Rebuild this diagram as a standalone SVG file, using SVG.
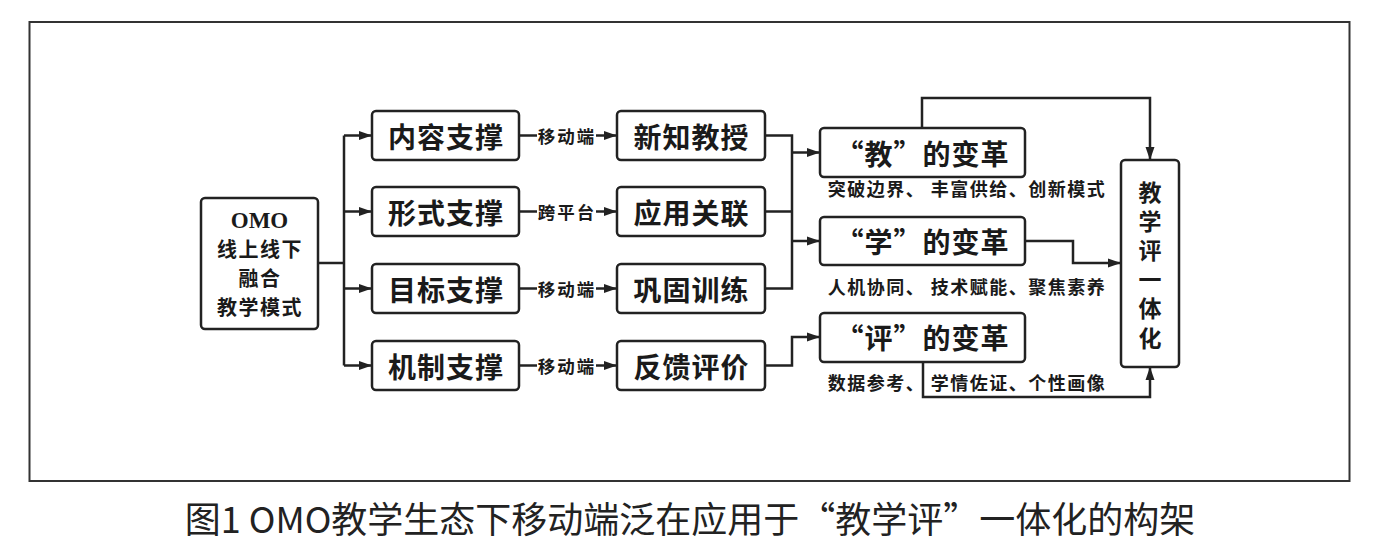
<svg xmlns="http://www.w3.org/2000/svg" width="1381" height="541" viewBox="0 0 1381 541">
<style>
.frame{fill:none;stroke:#333;stroke-width:2}
.box{fill:#fff;stroke:#222;stroke-width:2.5}
.ln{fill:none;stroke:#222;stroke-width:2.5}
.t{font-family:"Noto Sans CJK SC",sans-serif;font-weight:700;fill:#1a1a1a;text-anchor:middle;dominant-baseline:central}
.big{font-size:28px;letter-spacing:1px}
.mid{font-size:20px;letter-spacing:1.5px}
.vert{font-size:23px;letter-spacing:6.2px;writing-mode:vertical-rl}
.lab{font-size:17.5px;letter-spacing:2px}
.sub{font-size:18px;letter-spacing:1.5px}
.omo{font-family:"Liberation Serif",serif;font-size:23px;letter-spacing:0}
.cap{font-family:"Noto Sans CJK SC",sans-serif;font-weight:400;font-size:36px;fill:#222;text-anchor:middle;dominant-baseline:central}
</style>
<defs>
<marker id="ah" markerUnits="userSpaceOnUse" markerWidth="14" markerHeight="10" refX="13" refY="5" orient="auto">
<path d="M0,0.5 L13,5 L0,9.5 Z" fill="#222"/>
</marker>
</defs>
<rect x="0" y="0" width="1381" height="541" fill="#fff"/>
<rect class="frame" x="29.5" y="22" width="1320" height="459"/>

<g id="connectors">
<path class="ln" d="M318,263 H344"/>
<path class="ln" d="M344,135.5 V365.5"/>
<path class="ln" d="M344,135.5 H372" marker-end="url(#ah)"/>
<path class="ln" d="M344,211.5 H372" marker-end="url(#ah)"/>
<path class="ln" d="M344,288.5 H372" marker-end="url(#ah)"/>
<path class="ln" d="M344,365.5 H372" marker-end="url(#ah)"/>

<path class="ln" d="M519,135.5 H537"/>
<path class="ln" d="M596,135.5 H617" marker-end="url(#ah)"/>
<path class="ln" d="M519,211.5 H537"/>
<path class="ln" d="M596,211.5 H617" marker-end="url(#ah)"/>
<path class="ln" d="M519,288.5 H537"/>
<path class="ln" d="M596,288.5 H617" marker-end="url(#ah)"/>
<path class="ln" d="M519,365.5 H537"/>
<path class="ln" d="M596,365.5 H617" marker-end="url(#ah)"/>

<path class="ln" d="M765,135.5 H792 V288.5 H765"/>
<path class="ln" d="M765,211.5 H792"/>
<path class="ln" d="M792,152.5 H820" marker-end="url(#ah)"/>
<path class="ln" d="M792,241 H820" marker-end="url(#ah)"/>
<path class="ln" d="M765,365.5 H792 V337 H820" marker-end="url(#ah)"/>

<path class="ln" d="M922,128 V98 H1150 V160" marker-end="url(#ah)"/>
<path class="ln" d="M1025,241 H1073 V263 H1121" marker-end="url(#ah)"/>
<path class="ln" d="M923,362 V397 H1150 V367" marker-end="url(#ah)"/>

<text class="t lab" x="567" y="135.5">移动端</text>
<text class="t lab" x="567" y="211.5">跨平台</text>
<text class="t lab" x="567" y="288.5">移动端</text>
<text class="t lab" x="567" y="365.5">移动端</text>
</g>

<g id="omo">
<rect class="box" x="201" y="198" width="117" height="131" rx="4"/>
<text class="t omo" x="259.5" y="220">OMO</text>
<text class="t mid" x="260" y="248">线上线下</text>
<text class="t mid" x="260" y="277">融合</text>
<text class="t mid" x="260" y="306">教学模式</text>
</g>

<g id="s1"><rect class="box" x="372" y="111" width="147" height="49" rx="4"/><text class="t big" x="446" y="135.5">内容支撑</text></g>
<g id="s2"><rect class="box" x="372" y="187" width="147" height="49" rx="4"/><text class="t big" x="446" y="211.5">形式支撑</text></g>
<g id="s3"><rect class="box" x="372" y="264" width="147" height="49" rx="4"/><text class="t big" x="446" y="288.5">目标支撑</text></g>
<g id="s4"><rect class="box" x="372" y="341" width="147" height="49" rx="4"/><text class="t big" x="446" y="365.5">机制支撑</text></g>

<g id="a1"><rect class="box" x="617" y="111" width="148" height="49" rx="4"/><text class="t big" x="691.5" y="135.5">新知教授</text></g>
<g id="a2"><rect class="box" x="617" y="187" width="148" height="49" rx="4"/><text class="t big" x="691.5" y="211.5">应用关联</text></g>
<g id="a3"><rect class="box" x="617" y="264" width="148" height="49" rx="4"/><text class="t big" x="691.5" y="288.5">巩固训练</text></g>
<g id="a4"><rect class="box" x="617" y="341" width="148" height="49" rx="4"/><text class="t big" x="691.5" y="365.5">反馈评价</text></g>

<g id="jiao">
<rect class="box" x="820" y="128" width="205" height="49" rx="4"/>
<text class="t big" x="922.5" y="152.5">“教”的变革</text>
<text class="t sub" x="967" y="188">突破边界、 丰富供给、创新模式</text>
</g>
<g id="xue">
<rect class="box" x="820" y="217" width="205" height="48" rx="4"/>
<text class="t big" x="922.5" y="241">“学”的变革</text>
<text class="t sub" x="967" y="286">人机协同、 技术赋能、聚焦素养</text>
</g>
<g id="ping">
<rect class="box" x="820" y="313" width="205" height="49" rx="4"/>
<text class="t big" x="922.5" y="337">“评”的变革</text>
<text class="t sub" x="967" y="382">数据参考、 学情佐证、个性画像</text>
</g>

<g id="yitihua">
<rect class="box" x="1121" y="160" width="58" height="207" rx="4"/>
<text class="t vert" x="1150" y="268">教学评一体化</text>
</g>

<text class="cap" x="690" y="517">图1 OMO教学生态下移动端泛在应用于“教学评”一体化的构架</text>
</svg>
